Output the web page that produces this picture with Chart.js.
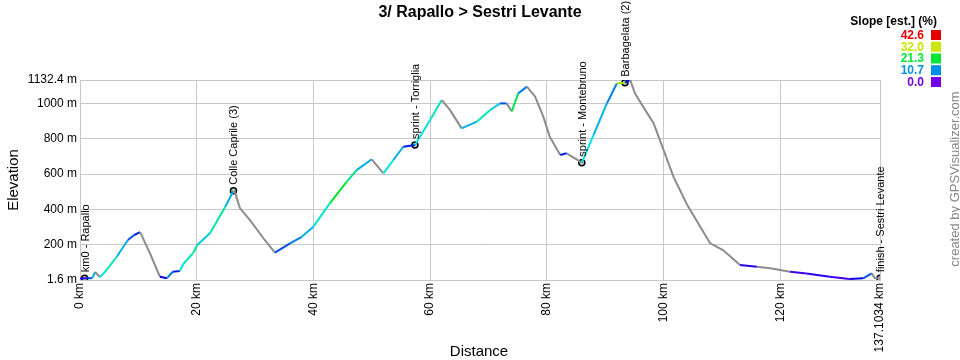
<!DOCTYPE html>
<html lang="en">
<head>
    <meta charset="UTF-8">
    <title>3/ Rapallo &gt; Sestri Levante</title>
    <style>
        body {
            background: #fff;
            padding: 0;
            margin: 0;
        }
        canvas {
            display: block;
        }
    </style>
</head>
<body>
    <canvas id="profile" width="960" height="360"></canvas>

    <script src="https://cdn.jsdelivr.net/npm/chart.js@4/dist/chart.umd.min.js"></script>
    <script>
    // track (km, m)
    var distKm = [0, 1.2, 2.1, 2.6, 3.4, 4.3, 6.3, 8.2, 9.3, 10.3,
        12.0, 13.7, 14.9, 15.9, 17.1, 17.7, 19.4, 20.1, 22.3, 24.9,
        26.3, 26.6, 27.4, 29.1, 31.4, 33.4, 36.0, 38.0, 40.0, 42.8,
        45.7, 47.4, 50.0, 52.0, 53.7, 55.4, 57.4, 60.0, 62.0, 63.4,
        65.4, 68.0, 70.3, 72.0, 73.1, 74.0, 75.1, 76.6, 78.0, 79.4,
        80.5, 82.3, 83.4, 86.0, 88.0, 90.3, 92.0, 93.4, 94.3, 95.1,
        96.5, 98.3, 100.0, 101.7, 104.0, 106.3, 108.0, 110.2, 113.1, 116.0,
        118.3, 121.7, 124.5, 128.5, 131.9, 134.2, 135.7, 136.2, 137.1034];
    var elevM = [10, 12, 12, 47, 18, 48, 133, 228, 256, 272,
        152, 20, 12, 48, 52, 92, 154, 200, 267, 416,
        506, 493, 408, 341, 239, 156, 209, 246, 303, 435,
        557, 623, 684, 604, 680, 755, 765, 906, 1019, 963,
        859, 897, 963, 1000, 1000, 955, 1057, 1095, 1038, 925,
        812, 708, 718, 665, 821, 1000, 1113, 1117, 1132.4, 1057,
        982, 888, 737, 586, 430, 303, 209, 171, 86, 77,
        68, 48, 39, 20, 7, 11, 39, 13, 10];
    var slopePct = [null, 3, 8, 12, null, 14, 16, 12, 8, 6,
        null, null, 4, 10, 6, 14, 16, 18, 13, 17,
        12, null, null, null, null, null, 8, 10, 12, 15,
        22, 18, 12, null, 14, 12, 6, 14, 16, null,
        null, 12, 16, 13, 8, null, 20, 10, null, null,
        null, null, 6, null, 14, 12, 10, 30, 6, null,
        null, null, null, null, null, null, null, null, null, 3,
        null, null, 2, 3, 2, 4, 8, null, null];

    // waypoints
    var wpKm = [0.8, 26.3, 57.4, 86.0, 93.4, 137.1034];
    var wpElev = [12, 506, 765, 665, 1117, 12];
    var wpNames = ['km0 - Rapallo', 'Colle Caprile (3)', 'sprint - Torriglia',
        'sprint - Montebruno', 'Barbagelata (2)', 'finish - Sestri Levante'];

    var xTicks = [0, 20, 40, 60, 80, 100, 120, 137.1034];
    var yTicks = [1.6, 200, 400, 600, 800, 1000, 1132.4];
    var legendSlopes = [42.6, 32.0, 21.3, 10.7, 0.0];
    var maxSlope = 42.6;

    var FONT = '"Liberation Sans", Arial, sans-serif';

    // purple (0 %) -> blue -> green -> yellow -> red (42.6 %)
    function slopeColor(s) {
        if (s === null || s === undefined) return '#8c8c8c';
        var t = Math.max(0, Math.min(1, s / maxSlope));
        var hue = 270 - t * 270;
        return 'hsl(' + hue.toFixed(0) + ', 100%, 45%)';
    }

    var extras = {
        id: 'extras',
        afterDraw: function(chart) {
            var ctx = chart.ctx;
            var xs = chart.scales.x, ys = chart.scales.y;
            ctx.save();

            // title
            ctx.fillStyle = '#000';
            ctx.font = 'bold 16px ' + FONT;
            ctx.textAlign = 'center';
            ctx.textBaseline = 'middle';
            ctx.fillText('3/ Rapallo > Sestri Levante', 480, 13);

            // axis titles
            ctx.font = '15px ' + FONT;
            ctx.fillText('Distance', 479, 352);
            ctx.save();
            ctx.translate(14, 180);
            ctx.rotate(-Math.PI / 2);
            ctx.fillText('Elevation', 0, 0);
            ctx.restore();

            // waypoint names
            ctx.font = '11px ' + FONT;
            ctx.textAlign = 'left';
            wpKm.forEach(function(km, i) {
                var px = xs.getPixelForValue(km);
                var py = ys.getPixelForValue(wpElev[i]);
                ctx.save();
                ctx.translate(px + 1, py - 6);
                ctx.rotate(-Math.PI / 2);
                ctx.fillText(wpNames[i], 0, 0);
                ctx.restore();
            });

            // slope legend
            ctx.font = 'bold 12px ' + FONT;
            ctx.textAlign = 'right';
            ctx.fillText('Slope [est.] (%)', 937, 22);
            legendSlopes.forEach(function(s, i) {
                var y = 30 + i * 11.75;
                var c = slopeColor(s);
                ctx.fillStyle = c;
                ctx.fillRect(931, y, 10, 10);
                ctx.fillText(s.toFixed(1), 924, y + 5.5);
            });

            // credit
            ctx.fillStyle = '#888';
            ctx.font = '13px ' + FONT;
            ctx.textAlign = 'center';
            ctx.translate(955, 179);
            ctx.rotate(-Math.PI / 2);
            ctx.fillText('created by GPSVisualizer.com', 0, 0);

            ctx.restore();
        }
    };

    var track = distKm.map(function(d, i) { return {x: d, y: elevM[i]}; });
    var points = wpKm.map(function(d, i) { return {x: d, y: wpElev[i]}; });

    new Chart(document.getElementById('profile'), {
        type: 'line',
        data: {
            datasets: [
                {
                    data: track,
                    borderWidth: 2,
                    borderColor: '#8c8c8c',
                    pointRadius: 0,
                    tension: 0,
                    segment: {
                        borderColor: function(c) { return slopeColor(slopePct[c.p1DataIndex]); }
                    }
                },
                {
                    data: points,
                    showLine: false,
                    pointRadius: 3,
                    pointBorderWidth: 1.5,
                    pointBorderColor: '#000',
                    pointBackgroundColor: 'rgba(120,120,120,0.4)'
                }
            ]
        },
        options: {
            responsive: false,
            animation: false,
            devicePixelRatio: 1,
            layout: { padding: { top: 80, right: 80, left: 0, bottom: 0 } },
            plugins: {
                legend: { display: false },
                tooltip: { enabled: false },
                title: { display: false }
            },
            scales: {
                x: {
                    type: 'linear',
                    min: 0,
                    max: 137.1034,
                    afterBuildTicks: function(s) { s.ticks = xTicks.map(function(v) { return {value: v}; }); },
                    afterFit: function(s) { s.height = 80; },
                    grid: { color: '#c8c8c8', drawTicks: false },
                    border: { color: '#c8c8c8' },
                    ticks: {
                        autoSkip: false,
                        minRotation: 90,
                        maxRotation: 90,
                        padding: 3,
                        color: '#000',
                        font: { family: FONT, size: 12 },
                        callback: function(v) { return v + ' km'; }
                    }
                },
                y: {
                    min: 1.6,
                    max: 1132.4,
                    afterBuildTicks: function(s) { s.ticks = yTicks.map(function(v) { return {value: v}; }); },
                    afterFit: function(s) { s.width = 80; },
                    grid: { color: '#c8c8c8', drawTicks: false },
                    border: { color: '#c8c8c8' },
                    ticks: {
                        autoSkip: false,
                        padding: 3,
                        color: '#000',
                        font: { family: FONT, size: 12 },
                        callback: function(v) { return v + ' m'; }
                    }
                }
            }
        },
        plugins: [extras]
    });
    </script>
</body>
</html>
